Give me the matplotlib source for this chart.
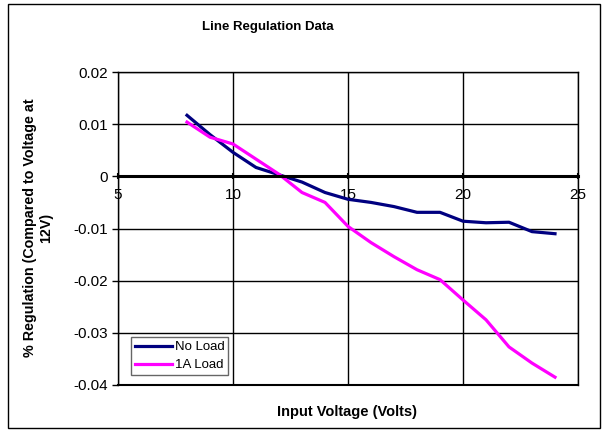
import matplotlib.pyplot as plt
from matplotlib.patches import Rectangle

plt.rcParams['font.family'] = ['Liberation Sans', 'DejaVu Sans']

volts = [8, 9, 10, 11, 12, 13, 14, 15, 16, 17, 18, 19, 20, 21, 22, 23, 24]
no_load = [0.0117, 0.008, 0.0046, 0.0017, 0.0003, -0.0011, -0.0031, -0.0044, -0.005,
           -0.0058, -0.0069, -0.0069, -0.0086, -0.0089, -0.0088, -0.0106, -0.011]
load_1a = [0.0104, 0.0075, 0.0062, 0.0033, 0.0004, -0.0031, -0.005, -0.0096, -0.0127,
           -0.0154, -0.0179, -0.0198, -0.0237, -0.0275, -0.0327, -0.0358, -0.0385]

W, H = 608, 434
fig = plt.figure(figsize=(W / 100, H / 100), dpi=100)
ax = fig.add_axes([118 / W, 1 - 385 / H, (578 - 118) / W, (385 - 72) / H])

ax.plot(volts, no_load, color='#000080', lw=2.3, label='No Load', solid_joinstyle='round')
ax.plot(volts, load_1a, color='#FF00FF', lw=2.3, label='1A Load', solid_joinstyle='round')

ax.set_xlim(5, 25)
ax.set_ylim(-0.04, 0.02)
ax.set_xticks([5, 10, 15, 20, 25])
ax.set_yticks([0.02, 0.01, 0, -0.01, -0.02, -0.03, -0.04])
ax.set_yticklabels(['0.02', '0.01', '0', '-0.01', '-0.02', '-0.03', '-0.04'])
ax.grid(True, color='black', lw=1)
ax.set_axisbelow(True)

ax.spines['bottom'].set_position(('data', 0))
ax.spines['bottom'].set_linewidth(2.2)
ax.spines['top'].set_linewidth(1)
ax.spines['right'].set_linewidth(1)
ax.spines['left'].set_linewidth(1)
ax.axhline(-0.04, color='black', lw=1.5, clip_on=False)
ax.tick_params(axis='x', direction='inout', length=5, width=1.5, labelsize=11, pad=6)
ax.tick_params(axis='y', direction='out', length=4, width=1, labelsize=11, pad=3)

fig.text(268 / W, 1 - 27 / H, 'Line Regulation Data', ha='center', va='center',
         fontsize=9.5, fontweight='bold')
fig.text(347 / W, 1 - 412 / H, 'Input Voltage (Volts)', ha='center', va='center',
         fontsize=10.5, fontweight='bold')
fig.text(38 / W, 1 - 228 / H, '% Regulation (Compared to Voltage at\n12V)', ha='center',
         va='center', rotation=90, fontsize=10.3, fontweight='bold', multialignment='center')

leg = ax.legend(loc='upper left', bbox_to_anchor=(131 / W, 1 - 337 / H),
                bbox_transform=fig.transFigure, fontsize=9.5, frameon=True, fancybox=False,
                borderaxespad=0, borderpad=0.3, handlelength=2.8, handletextpad=0.2,
                labelspacing=0.45)
leg.get_frame().set_edgecolor('#404040')
leg.get_frame().set_linewidth(1)

fig.patches.append(Rectangle((8 / W, 1 - 428 / H), (600 - 8) / W, (428 - 4) / H,
                             transform=fig.transFigure, fill=False, edgecolor='black', lw=1))

fig.savefig('out.png', dpi=100)
